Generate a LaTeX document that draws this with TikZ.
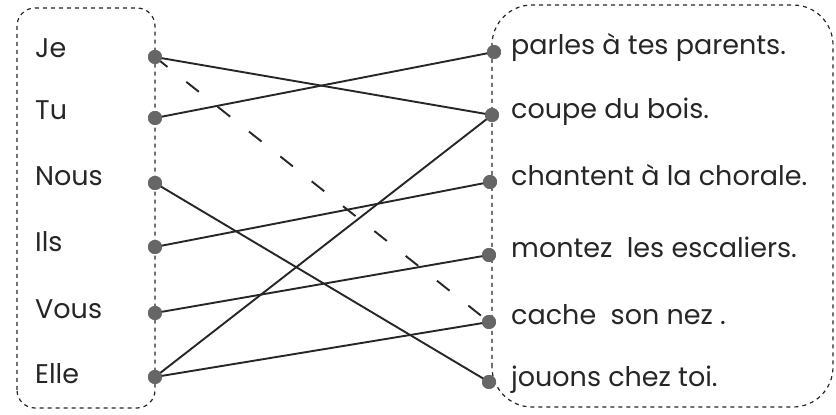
\documentclass[tikz,border=0pt]{standalone}
\usepackage{fontspec}
\setmainfont{Poppins}
\begin{document}
\begin{tikzpicture}[x=1pt,y=1pt,
  box/.style={draw=black!85, line width=1.2pt, dash pattern=on 4pt off 4pt},
  dot/.style={circle, fill=black!60, inner sep=0pt, minimum size=14pt},
  link/.style={draw=black!85, line width=1.9pt},
  dlink/.style={draw=black!85, line width=1.9pt, dash pattern=on 16pt off 24pt},
  lbl/.style={anchor=mid west, font=\fontsize{27}{32}\selectfont, text=black!85, inner sep=0pt}]
\useasboundingbox (0,0) rectangle (836,415);
% boxes
\draw[box, rounded corners=18pt] (17,7) rectangle (155,407);
\draw[box, rounded corners=40pt] (492,8) rectangle (833,410);
% left dots
\node[dot] (je) at (155,358) {};
\node[dot] (tu) at (155,297) {};
\node[dot] (nous) at (155,232) {};
\node[dot] (ils) at (155,168) {};
\node[dot] (vous) at (155,102) {};
\node[dot] (elle) at (155,38) {};
% right dots
\node[dot] (parles) at (494,363) {};
\node[dot] (coupe) at (492,300) {};
\node[dot] (chantent) at (490,233) {};
\node[dot] (montez) at (489,160) {};
\node[dot] (cache) at (489,93) {};
\node[dot] (jouons) at (489,33) {};
% labels
\node[lbl] (tje) at (35,360) {Je};
\node[lbl] (ttu) at (35,298) {Tu};
\node[lbl] (tnous) at (35,232) {Nous};
\node[lbl] (tils) at (35,166) {Ils};
\node[lbl] (tvous) at (35,99) {Vous};
\node[lbl] (telle) at (35,34) {Elle};
\node[lbl] (tparles) at (511,363) {parles à tes parents.};
\node[lbl] (tcoupe) at (511,299) {coupe du bois.};
\node[lbl] (tchantent) at (511,232) {chantent à la chorale.};
\node[lbl] (tmontez) at (511,160) {montez\ \ les escaliers.};
\node[lbl] (tcache) at (511,93) {cache\ \ son nez .};
\node[lbl] (tjouons) at (511,31) {jouons chez toi.};
% links
\draw[link] (je.center) -- (coupe.center);
\draw[dlink] (je.center) -- (cache.center);
\draw[link] (tu.center) -- (parles.center);
\draw[link] (nous.center) -- (jouons.center);
\draw[link] (ils.center) -- (chantent.center);
\draw[link] (vous.center) -- (montez.center);
\draw[link] (elle.center) -- (coupe.center);
\draw[link] (elle.center) -- (cache.center);
% redraw dots on top
\foreach \n in {je,tu,nous,ils,vous,elle,parles,coupe,chantent,montez,cache,jouons}
  \fill[black!60] (\n) circle (7pt);
\end{tikzpicture}
\end{document}
